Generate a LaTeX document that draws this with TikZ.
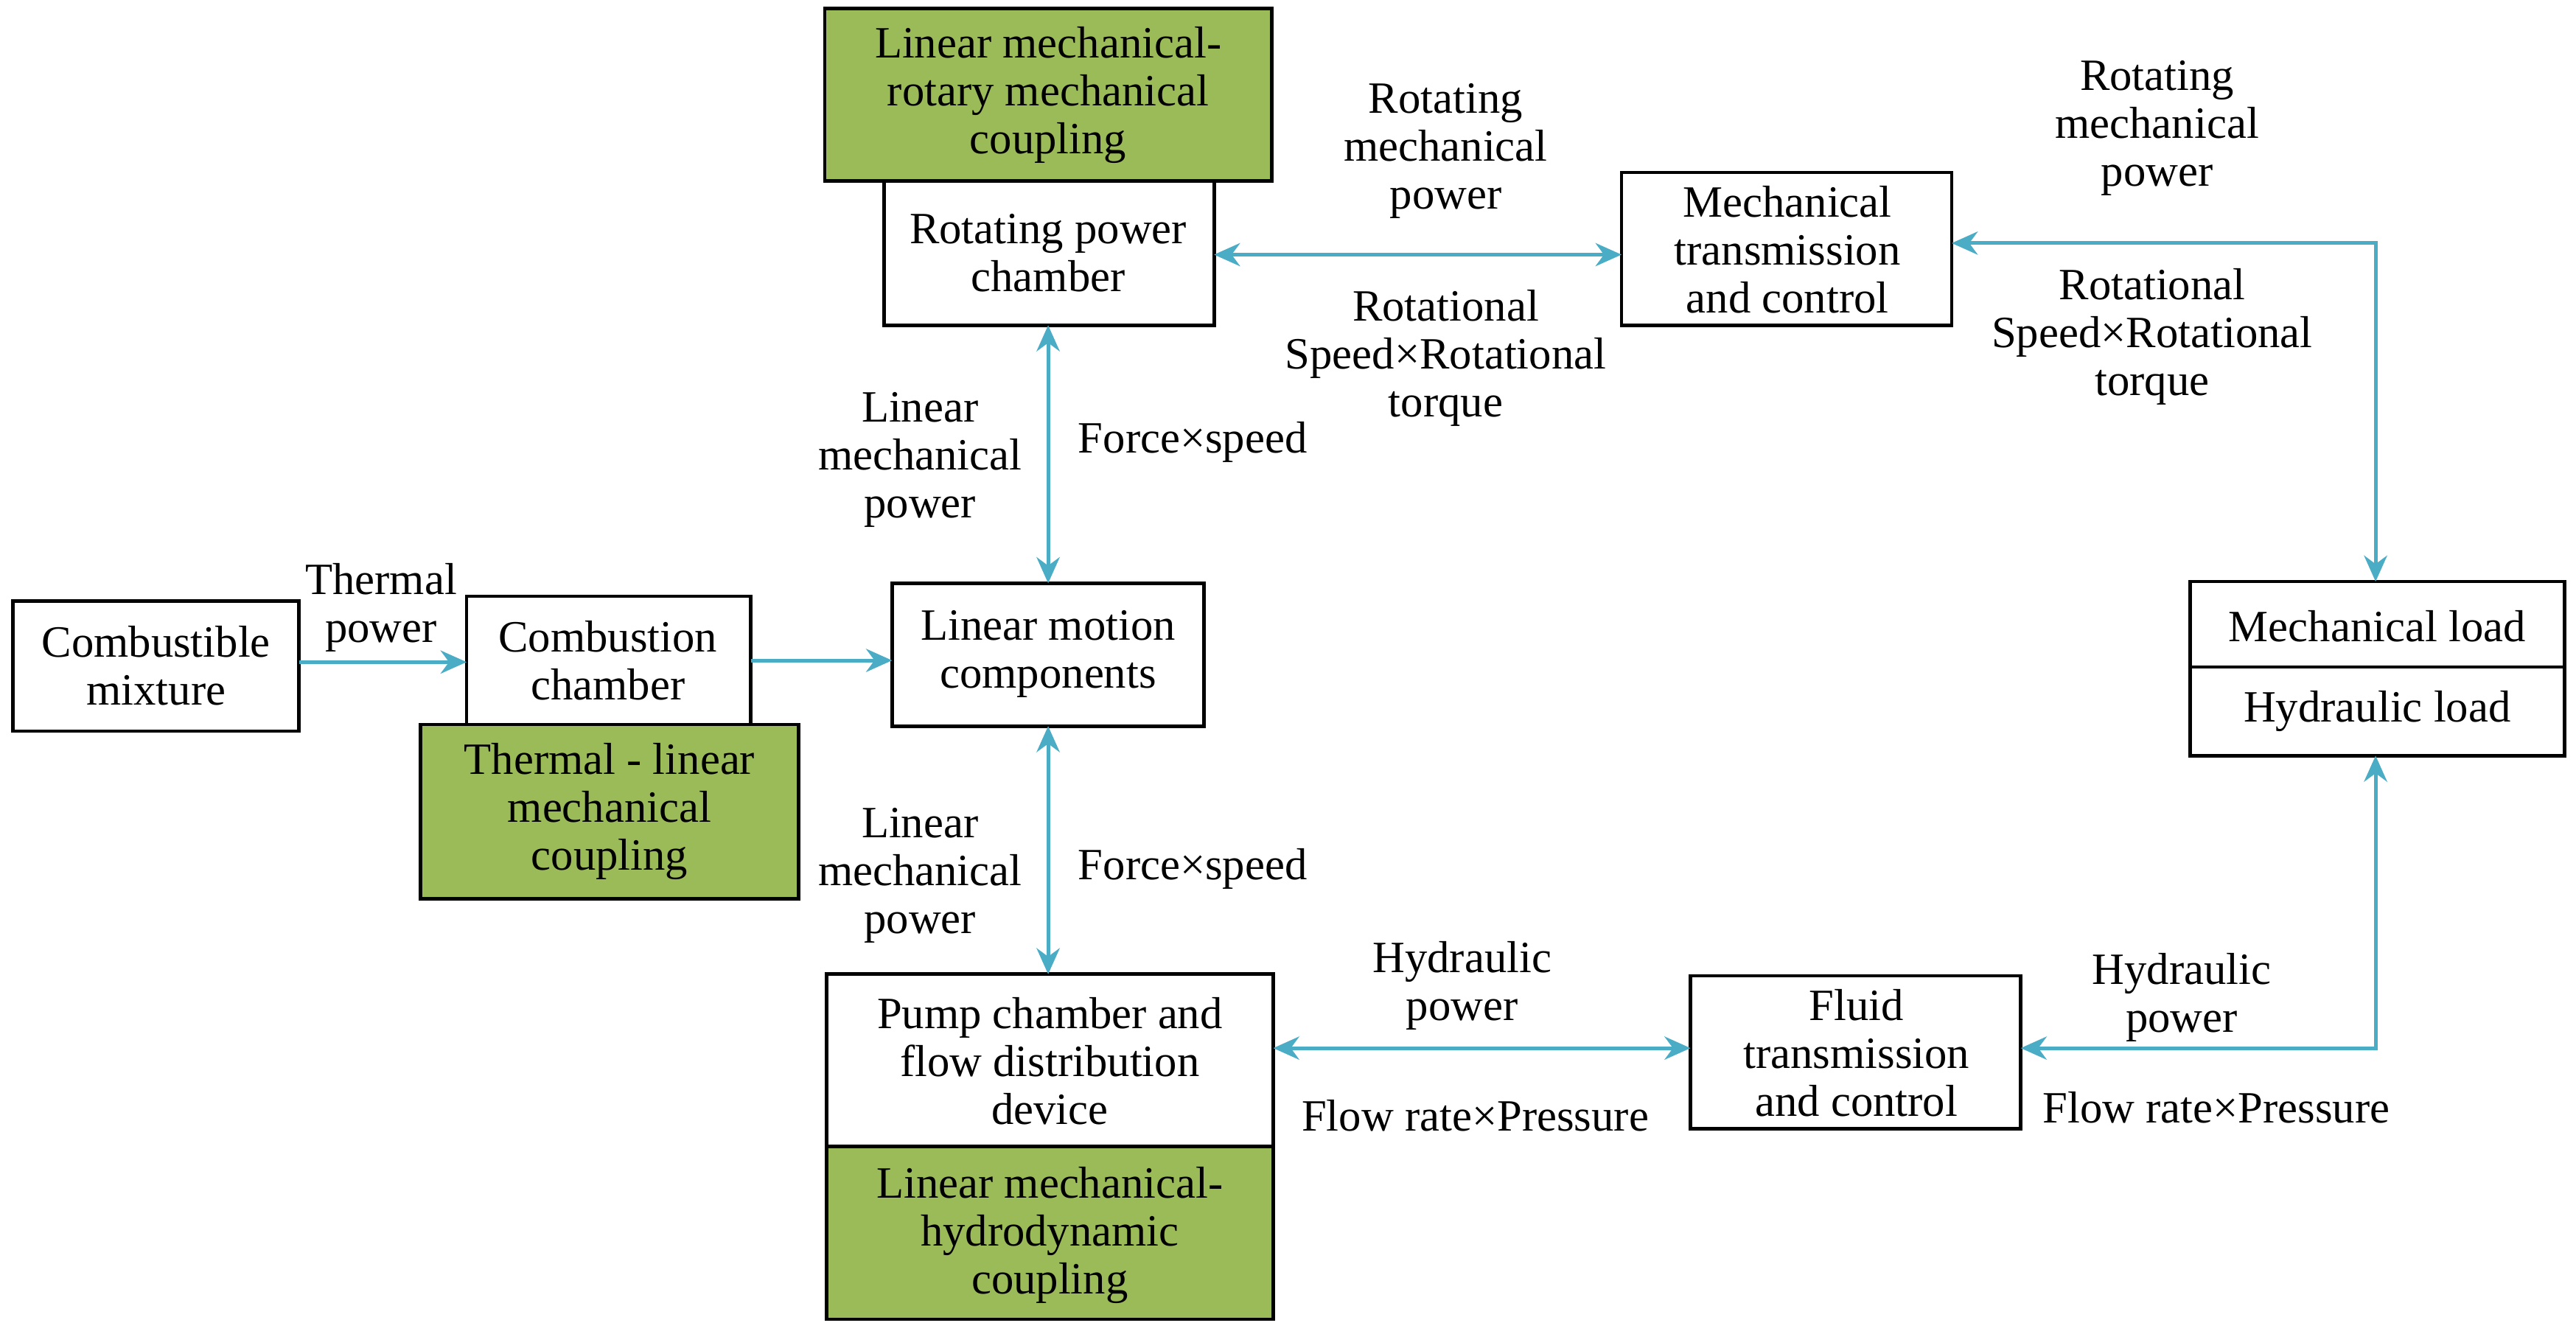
\documentclass[tikz,border=0pt]{standalone}
\usepackage{fontspec}
\setmainfont{Liberation Serif}
\usetikzlibrary{arrows.meta}
\definecolor{ar}{HTML}{4BACC6}
\definecolor{gr}{HTML}{9BBB59}
\begin{document}
\begin{tikzpicture}[x=0.02cm,y=-0.02cm,
  txt/.style={font=\fontsize{15.5}{16.6}\selectfont,align=center,inner sep=0pt},
  bx/.style={draw=black,line width=1.2pt},
  gb/.style={draw=black,line width=1.2pt,fill=gr},
  con/.style={draw=ar,line width=1.3pt,-{Stealth[length=9pt,width=8pt]}},
  bcon/.style={draw=ar,line width=1.3pt,{Stealth[length=9pt,width=8pt]}-{Stealth[length=9pt,width=8pt]}}]
\useasboundingbox (0,0) rectangle (1568,812);
% boxes
\draw[bx] (8,366) rectangle (182,445); \node[txt] (cm) at (95,405) {Combustible\\mixture};
\draw[gb] (256,441) rectangle (486,547); \node[txt] (g1) at (371,494) {Thermal - linear\\mechanical\\coupling};
\draw[bx,fill=white] (284,363) rectangle (457,441); \node[txt] (cc) at (370,402) {Combustion\\chamber};
\draw[bx] (543,355) rectangle (733,442); \node[txt] (lm) at (638,398) {Linear motion\\components};
\draw[gb] (502,5) rectangle (774,110); \node[txt] (g2) at (638,58) {Linear mechanical-\\rotary mechanical\\coupling};
\draw[bx] (538,110) rectangle (739,198); \node[txt] (rp) at (638,154) {Rotating power\\chamber};
\draw[bx] (987,105) rectangle (1188,198); \node[txt] (mt) at (1088,152) {Mechanical\\transmission\\and control};
\draw[bx] (1333,354) rectangle (1561,460); \draw[line width=1.2pt] (1333,406) -- (1561,406);
\node[txt] (ml) at (1447,381) {Mechanical load};
\node[txt] (hl) at (1447,433) {Hydraulic load};
\draw[bx] (503,593) rectangle (775,698); \node[txt] (pc) at (639,646) {Pump chamber and\\flow distribution\\device};
\draw[gb] (503,698) rectangle (775,803); \node[txt] (g3) at (639,752) {Linear mechanical-\\hydrodynamic\\coupling};
\draw[bx] (1029,594) rectangle (1230,687); \node[txt] (ft) at (1130,641) {Fluid\\transmission\\and control};
% coordinates
\coordinate (a1) at (182,403); \coordinate (a2) at (284,403);
\coordinate (b1) at (457,402); \coordinate (b2) at (543,402);
\coordinate (c1) at (638,198); \coordinate (c2) at (638,355);
\coordinate (d1) at (638,442); \coordinate (d2) at (638,593);
\coordinate (e1) at (739,155); \coordinate (e2) at (987,155);
\coordinate (f1) at (1188,148); \coordinate (f2) at (1446,354);
\coordinate (h1) at (775,638); \coordinate (h2) at (1029,638);
\coordinate (i1) at (1230,638); \coordinate (i2) at (1446,460);
\draw[con] (a1) -- (a2);
\draw[con] (b1) -- (b2);
\draw[bcon] (c1) -- (c2);
\draw[bcon] (d1) -- (d2);
\draw[bcon] (e1) -- (e2);
\draw[bcon] (f1) -| (f2);
\draw[bcon] (h1) -- (h2);
\draw[bcon] (i1) -| (i2);
% labels
\node[txt] at (232,370) {Thermal\\power};
\node[txt] at (880,92) {Rotating\\mechanical\\power};
\node[txt] at (880,218) {Rotational\\Speed×Rotational\\torque};
\node[txt] at (1313,78) {Rotating\\mechanical\\power};
\node[txt] at (1310,205) {Rotational\\Speed×Rotational\\torque};
\node[txt] at (560,280) {Linear\\mechanical\\power};
\node[txt] at (726,269) {Force×speed};
\node[txt] at (560,533) {Linear\\mechanical\\power};
\node[txt] at (726,529) {Force×speed};
\node[txt] at (890,600) {Hydraulic\\power};
\node[txt] at (898,679) {Flow rate×Pressure};
\node[txt] at (1328,607) {Hydraulic\\power};
\node[txt] at (1349,674) {Flow rate×Pressure};
\end{tikzpicture}
\end{document}
